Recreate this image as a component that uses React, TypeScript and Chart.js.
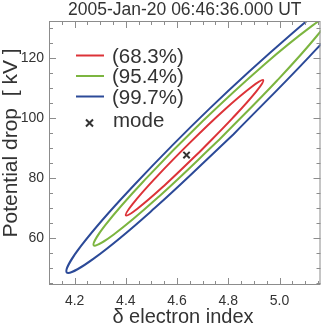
import React, { useEffect, useRef } from 'react';
import { Chart, registerables } from 'chart.js';

Chart.register(...registerables);

// ---- Text ----
const TITLE = '2005-Jan-20 06:46:36.000 UT';
const X_LABEL = 'δ electron index';
const Y_LABEL = 'Potential drop  [ kV ]';
const LEGEND_LABELS = ['(68.3%)', '(95.4%)', '(99.7%)', 'mode'];

// ---- Axes ----
const X_MIN = 4.1;
const X_MAX = 5.16;
const Y_MIN = 44.45;
const Y_MAX = 132.3;
const X_TICKS = [4.2, 4.4, 4.6, 4.8, 5.0];
const Y_TICKS = [60, 80, 100, 120];
const X_MINOR_STEP = 0.05;
const Y_MINOR_STEP = 5;

// ---- Contours ----
const c68X = [4.6856, 4.5496, 4.4451, 4.4003, 4.4270, 4.5181, 4.6494, 4.7853, 4.8918, 4.9366, 4.9088, 4.8166];
const c68Y = [88.52, 77.49, 69.84, 67.63, 71.45, 80.28, 91.75, 102.78, 110.42, 112.63, 108.81, 99.99];

const c95X = [4.7663, 4.5329, 4.3529, 4.2746, 4.3189, 4.4740, 4.7004, 4.9398, 5.1268, 5.2002, 5.1489, 4.9907];
const c95Y = [92.93, 74.17, 61.25, 57.63, 64.29, 79.43, 99.01, 117.77, 130.68, 134.30, 127.64, 112.50];

const c99X = [4.8206, 4.5127, 4.2743, 4.1694, 4.2259, 4.4308, 4.7288, 5.0456, 5.2900, 5.3900, 5.3255, 5.1155];
const c99Y = [94.63, 70.04, 53.21, 48.63, 57.55, 77.56, 103.31, 127.89, 144.73, 149.30, 140.39, 120.38];

const modeX = [4.637];
const modeY = [87.7];

const COLORS = ['#dc3338', '#7cb540', '#2c4a98'];
const MODE_COLOR = '#333333';
const TEXT_COLOR = '#333333';
const FRAME_COLOR = '#8c8c8c';
const FONT = '"Liberation Sans", Arial, Helvetica, sans-serif';

function closed(xs: number[], ys: number[]) {
  const pts = xs.map((x, i) => ({ x, y: ys[i] }));
  pts.push({ x: xs[0], y: ys[0] });
  return pts;
}

const decorPlugin = {
  id: 'decor',
  afterDatasetsDraw(chart: any) {
    const { ctx, chartArea: a, scales } = chart;
    const xs = scales.x;
    const ys = scales.y;
    ctx.save();

    // frame
    ctx.strokeStyle = FRAME_COLOR;
    ctx.lineWidth = 1;
    ctx.strokeRect(a.left + 0.5, a.top + 0.5, a.right - a.left - 1, a.bottom - a.top - 1);

    // inward ticks on all sides
    const tick = (len: number, v: number, isX: boolean) => {
      if (isX) {
        const p = Math.round(xs.getPixelForValue(v)) + 0.5;
        ctx.beginPath();
        ctx.moveTo(p, a.bottom);
        ctx.lineTo(p, a.bottom - len);
        ctx.moveTo(p, a.top);
        ctx.lineTo(p, a.top + len);
        ctx.stroke();
      } else {
        const p = Math.round(ys.getPixelForValue(v)) + 0.5;
        ctx.beginPath();
        ctx.moveTo(a.left, p);
        ctx.lineTo(a.left + len, p);
        ctx.moveTo(a.right, p);
        ctx.lineTo(a.right - len, p);
        ctx.stroke();
      }
    };
    for (let v = Math.ceil(X_MIN / X_MINOR_STEP) * X_MINOR_STEP; v <= X_MAX + 1e-9; v += X_MINOR_STEP) {
      const isMajor = X_TICKS.some((t) => Math.abs(t - v) < 1e-6);
      tick(isMajor ? 7 : 4, v, true);
    }
    for (let v = Math.ceil(Y_MIN / Y_MINOR_STEP) * Y_MINOR_STEP; v <= Y_MAX + 1e-9; v += Y_MINOR_STEP) {
      const isMajor = Y_TICKS.some((t) => Math.abs(t - v) < 1e-6);
      tick(isMajor ? 7 : 4, v, false);
    }

    // title
    ctx.fillStyle = TEXT_COLOR;
    ctx.textAlign = 'center';
    ctx.textBaseline = 'alphabetic';
    ctx.font = `17.5px ${FONT}`;
    ctx.fillText(TITLE, (a.left + a.right) / 2, 15);

    // x label
    ctx.font = `20px ${FONT}`;
    ctx.fillText(X_LABEL, 183, 323);

    // y label
    ctx.save();
    ctx.translate(17, 143);
    ctx.rotate(-Math.PI / 2);
    ctx.font = `21px ${FONT}`;
    ctx.fillText(Y_LABEL, 0, 0);
    ctx.restore();

    // legend
    const rows = [55.5, 76, 96.5];
    ctx.lineWidth = 2;
    rows.forEach((ry, i) => {
      ctx.strokeStyle = COLORS[i];
      ctx.beginPath();
      ctx.moveTo(76, ry);
      ctx.lineTo(104, ry);
      ctx.stroke();
    });
    ctx.font = `20.5px ${FONT}`;
    ctx.textAlign = 'left';
    ctx.fillStyle = TEXT_COLOR;
    rows.forEach((ry, i) => {
      ctx.fillText(LEGEND_LABELS[i], 112, ry + 7);
    });
    // mode marker in legend
    ctx.strokeStyle = MODE_COLOR;
    ctx.beginPath();
    const mx = 89.5, my = 123, r = 3.5;
    ctx.moveTo(mx - r, my - r);
    ctx.lineTo(mx + r, my + r);
    ctx.moveTo(mx + r, my - r);
    ctx.lineTo(mx - r, my + r);
    ctx.stroke();
    ctx.fillText(LEGEND_LABELS[3], 113, 126.5);

    ctx.restore();
  },
};

export default function App() {
  const ref = useRef<HTMLCanvasElement | null>(null);

  useEffect(() => {
    if (!ref.current) return;
    const contour = (xs: number[], ys: number[], color: string) => ({
      data: closed(xs, ys),
      showLine: true,
      borderColor: color,
      backgroundColor: color,
      borderWidth: 2,
      pointRadius: 0,
      pointHoverRadius: 0,
      tension: 0.4,
      capBezierPoints: false,
      fill: false,
      clip: 0,
    });
    const chart = new Chart(ref.current, {
      type: 'scatter',
      data: {
        datasets: [
          contour(c99X, c99Y, COLORS[2]),
          contour(c95X, c95Y, COLORS[1]),
          contour(c68X, c68Y, COLORS[0]),
          {
            data: modeX.map((x, i) => ({ x, y: modeY[i] })),
            pointStyle: 'crossRot',
            pointRadius: 4.5,
            borderWidth: 2,
            borderColor: MODE_COLOR,
            backgroundColor: MODE_COLOR,
            showLine: false,
          } as any,
        ],
      },
      options: {
        animation: false,
        responsive: false,
        events: [],
        layout: { padding: { top: 21, right: 3, left: 0, bottom: 0 } },
        plugins: {
          legend: { display: false },
          tooltip: { enabled: false },
          title: { display: false },
        },
        scales: {
          x: {
            type: 'linear',
            min: X_MIN,
            max: X_MAX,
            grid: { display: false, drawTicks: false },
            border: { display: false },
            afterBuildTicks: (s: any) => {
              s.ticks = X_TICKS.map((v) => ({ value: v }));
            },
            afterFit: (s: any) => {
              s.height = 42;
            },
            ticks: {
              autoSkip: false,
              maxRotation: 0,
              padding: 8,
              color: TEXT_COLOR,
              font: { family: FONT, size: 14 },
              callback: (v: any) => Number(v).toFixed(1),
            },
          },
          y: {
            type: 'linear',
            min: Y_MIN,
            max: Y_MAX,
            grid: { display: false, drawTicks: false },
            border: { display: false },
            afterBuildTicks: (s: any) => {
              s.ticks = Y_TICKS.map((v) => ({ value: v }));
            },
            afterFit: (s: any) => {
              s.width = 49;
            },
            ticks: {
              autoSkip: false,
              padding: 5,
              color: TEXT_COLOR,
              font: { family: FONT, size: 14 },
              callback: (v: any) => String(Math.round(Number(v))),
            },
          },
        },
      } as any,
      plugins: [decorPlugin],
    });
    return () => chart.destroy();
  }, []);

  return (
    <div style={{ position: 'absolute', left: 0, top: 0, width: 327, height: 327, background: '#fff' }}>
      <canvas ref={ref} width={327} height={327} style={{ display: 'block' }} />
    </div>
  );
}
